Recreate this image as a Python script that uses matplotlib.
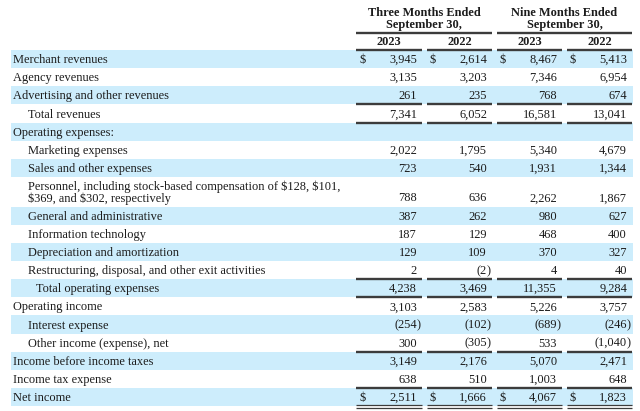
import matplotlib.pyplot as plt

plt.rcParams['text.parse_math'] = False
plt.rcParams['font.family'] = ['Liberation Serif', 'DejaVu Serif']

# table content
labels = ['Merchant revenues', 'Agency revenues', 'Advertising and other revenues',
          'Total revenues', 'Operating expenses:', 'Marketing expenses',
          'Sales and other expenses',
          'Personnel, including stock-based compensation of $128, $101,\n$369, and $302, respectively',
          'General and administrative', 'Information technology',
          'Depreciation and amortization', 'Restructuring, disposal, and other exit activities',
          'Total operating expenses', 'Operating income', 'Interest expense',
          'Other income (expense), net', 'Income before income taxes',
          'Income tax expense', 'Net income']
indent = [0, 0, 0, 1, 0, 1, 1, 1, 1, 1, 1, 1, 2, 0, 1, 1, 0, 0, 0]
q3_2023 = [3945, 3135, 261, 7341, None, 2022, 723, 788, 387, 187, 129, 2, 4238, 3103, -254, 300, 3149, 638, 2511]
q3_2022 = [2614, 3203, 235, 6052, None, 1795, 540, 636, 262, 129, 109, -2, 3469, 2583, -102, -305, 2176, 510, 1666]
nm_2023 = [8467, 7346, 768, 16581, None, 5340, 1931, 2262, 980, 468, 370, 4, 11355, 5226, -689, 533, 5070, 1003, 4067]
nm_2022 = [5413, 6954, 674, 13041, None, 4679, 1344, 1867, 627, 400, 327, 40, 9284, 3757, -246, -1040, 2471, 648, 1823]
columns = [q3_2023, q3_2022, nm_2023, nm_2022]
years = ['2023', '2022', '2023', '2022']
groups = ['Three Months Ended\nSeptember 30,', 'Nine Months Ended\nSeptember 30,']
dollar_rows = [0, 18]
single_rules = [2, 3, 11, 12, 15, 17]
double_rules = [18]

fs = 8.9
txt = '#1c1c1c'
rule = '#3c3c3c'
band = '#cdedfc'

fig = plt.figure(figsize=(6.4, 4.11), dpi=100)
ax = fig.add_axes([0, 0, 1, 1])
ax.set_xlim(0, 640)
ax.set_ylim(411, 0)
ax.axis('off')

col_l = [356, 427, 497, 567]
col_r = [422, 492, 562, 632]
indent_x = [13, 28, 36]

# row geometry
heights = [29.5 if '\n' in l else 18.15 for l in labels]
tops = [50.0]
for h in heights[:-1]:
    tops.append(tops[-1] + h)

# group headers
for g, (a, b) in enumerate([(0, 1), (2, 3)]):
    cx = (col_l[a] + col_r[b]) / 2
    ax.text(cx, 19, groups[g], ha='center', va='center', fontsize=fs,
            fontweight='bold', color=txt, linespacing=0.95)
    ax.plot([col_l[a], col_r[b]], [33, 33], color=rule, lw=1.7, solid_capstyle='butt')

for j, y in enumerate(years):
    ax.text((col_l[j] + col_r[j]) / 2, 42, y, ha='center', va='center',
            fontsize=fs, fontweight='bold', color=txt)
    ax.plot([col_l[j], col_r[j]], [50, 50], color=rule, lw=1.7, solid_capstyle='butt')

for i, lab in enumerate(labels):
    top, h = tops[i], heights[i]
    if i % 2 == 0:
        ax.fill_between([11, 633], top, top + h, color=band, lw=0)
    ax.text(indent_x[indent[i]], top + h / 2 + 1, lab, ha='left', va='center',
            fontsize=fs, color=txt, linespacing=0.95)
    vy = top + h - 8.2
    for j, col in enumerate(columns):
        v = col[i]
        if v is None:
            continue
        nx = col_r[j] - 5
        if v < 0:
            ax.text(nx, vy, '(' + format(-v, ','), ha='right', va='center', fontsize=fs, color=txt)
            ax.text(nx, vy, ')', ha='left', va='center', fontsize=fs, color=txt)
        else:
            ax.text(nx, vy, format(v, ','), ha='right', va='center', fontsize=fs, color=txt)
        if i in dollar_rows:
            ax.text(col_l[j] + 3, vy, '$', ha='left', va='center', fontsize=fs, color=txt)
    bottom = top + h
    for j in range(4):
        if i in single_rules:
            ax.plot([col_l[j], col_r[j]], [bottom, bottom], color=rule, lw=1.7, solid_capstyle='butt')
        if i in double_rules:
            ax.plot([col_l[j], col_r[j]], [bottom - 1, bottom - 1], color=rule, lw=0.9, solid_capstyle='butt')
            ax.plot([col_l[j], col_r[j]], [bottom + 1.8, bottom + 1.8], color=rule, lw=0.9, solid_capstyle='butt')

fig.savefig('out.png', dpi=100)
